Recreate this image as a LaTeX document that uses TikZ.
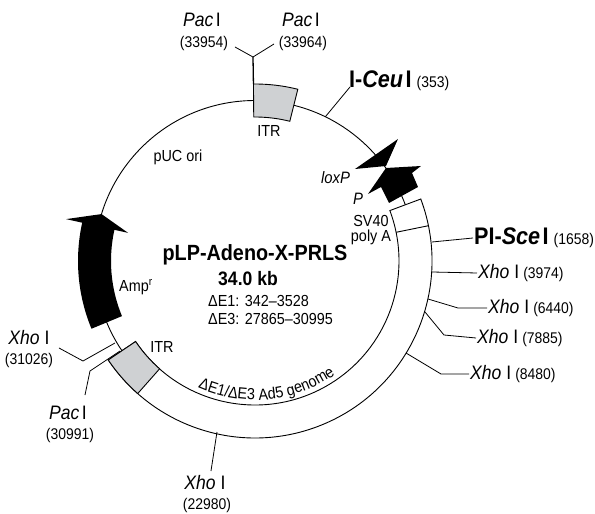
\documentclass[tikz,border=0pt]{standalone}
\usepackage{fontspec}
\setmainfont[FakeStretch=0.9]{Liberation Sans}
\usetikzlibrary{decorations.text}
\definecolor{itrgray}{HTML}{CFD1D3}
\newcommand{\sitename}[1]{{\fontsize{19.5}{20}\selectfont #1}}
\newcommand{\boldname}[1]{{\fontsize{24}{24}\selectfont\bfseries #1}}
\newcommand{\sitenum}[1]{{\fontsize{15.5}{16}\selectfont (#1)}}
\tikzset{
  sitelabel/.style={inner sep=1pt},
  featlabel/.style={inner sep=0pt, font=\fontsize{16}{15}\selectfont, align=center},
  lead/.style={line width=0.8pt}
}
\begin{document}
\begin{tikzpicture}[x=1pt, y=1pt]
\useasboundingbox (-255,-253) rectangle (340,261);
% backbone
\draw[line width=0.9pt] (76:160.5) arc[start angle=76, end angle=20.5, radius=160.5];
\draw[line width=0.9pt] (90.5:160.5) arc[start angle=90.5, end angle=214, radius=160.5];
% adenovirus ring
\draw[line width=0.9pt, fill=white] (214:144) arc[start angle=214, end angle=380.5, radius=144]
  -- (20.5:177) arc[start angle=20.5, end angle=-146, radius=177] -- cycle;
\draw[line width=0.9pt] (11.5:144) -- (11.5:177);
% ITR boxes
\draw[line width=0.9pt, fill=itrgray] (90.5:144) arc[start angle=90.5, end angle=76, radius=144]
  -- (76:177) arc[start angle=76, end angle=90.5, radius=177] -- cycle;
\draw[line width=0.9pt, fill=itrgray] (214:144) arc[start angle=214, end angle=228.5, radius=144]
  -- (228.5:177) arc[start angle=228.5, end angle=214, radius=177] -- cycle;
% Amp arrow
\fill (202.5:144) arc[start angle=202.5, end angle=167.5, radius=144] -- (167.5:130) -- (163:160.5)
  -- (167.5:193.5) -- (167.5:177) arc[start angle=167.5, end angle=202.5, radius=177] -- cycle;
% loxP and P
\fill (143,122) -- (100,92) -- (131,95) -- cycle;
\fill (131,93) -- (166,95) -- (157,88) -- (163,74) -- (134,58) -- (126,74) -- (113,67) -- cycle;
% sites
\node[sitelabel, anchor=center] (pacl) at (-53,241) {\sitename{\textit{Pac}\hspace{2.5pt}I}};
\node[sitelabel, anchor=center] (pacln) at (-51,218) {\sitenum{33954}};
\node[sitelabel, anchor=center] (pacr) at (46,241) {\sitename{\textit{Pac}\hspace{2.5pt}I}};
\node[sitelabel, anchor=center] (pacrn) at (48,218) {\sitenum{33964}};
\coordinate (pacb) at (-2,204);
\draw[line width=1.3pt] (90.5:177) -- (pacb);
\draw[lead] (-20,214) -- (pacb) -- (19,217);
\node[sitelabel, anchor=west] (ceu) at (93,180) {\boldname{I-\textit{Ceu}\hspace{2.5pt}I}\hspace{5pt}\sitenum{353}};
\coordinate (ceub) at (95,174);
\draw[lead] (64:160.5) -- (ceub);
\node[sitelabel, anchor=west] (sce) at (218,23) {\boldname{PI-\textit{Sce}\hspace{2.5pt}I}\hspace{5pt}\sitenum{1658}};
\draw[lead] (177,19) -- (sce.west);
\node[sitelabel, anchor=west] (xhoa) at (222,-12) {\sitename{\textit{Xho}\hspace{5pt}I}\hspace{4pt}\sitenum{3974}};
\draw[lead] (177,-11) -- (xhoa.west);
\node[sitelabel, anchor=west] (xhob) at (232,-47) {\sitename{\textit{Xho}\hspace{5pt}I}\hspace{4pt}\sitenum{6440}};
\draw[lead] (173,-38) -- (203,-47) -- (xhob.west);
\node[sitelabel, anchor=west] (xhoc) at (221,-77) {\sitename{\textit{Xho}\hspace{5pt}I}\hspace{4pt}\sitenum{7885}};
\draw[lead] (170,-51) -- (189,-74) -- (xhoc.west);
\node[sitelabel, anchor=west] (xhod) at (214,-113) {\sitename{\textit{Xho}\hspace{5pt}I}\hspace{4pt}\sitenum{8480}};
\draw[lead] (151,-92) -- (186,-113) -- (xhod.west);
\node[sitelabel] (xhoe) at (-50,-222) {\sitename{\textit{Xho}\hspace{5pt}I}};
\node[sitelabel] (xhoen) at (-48,-244) {\sitenum{22980}};
\draw[lead] (-38,-171) -- (-44,-210);
\node[sitelabel] (xhof) at (-226,-77) {\sitename{\textit{Xho}\hspace{5pt}I}};
\node[sitelabel] (xhofn) at (-226,-99) {\sitenum{31026}};
\draw[lead] (-140,-82) -- (-172,-100) -- (-196,-87);
\node[sitelabel] (pacg) at (-187,-152) {\sitename{\textit{Pac}\hspace{2.5pt}I}};
\node[sitelabel] (pacgn) at (-185,-174) {\sitenum{30991}};
\draw[lead] (-135,-90) -- (-165,-110) -- (-170,-134);
% features
\node[featlabel] (itra) at (14,130) {ITR};
\node[featlabel] (itrb) at (-93,-86) {ITR};
\node[featlabel] (ori) at (-77,104) {pUC ori};
\node[featlabel, font=\fontsize{16.5}{15}\selectfont\itshape] (loxp) at (80.5,83) {loxP};
\node[featlabel, font=\fontsize{16.5}{15}\selectfont\itshape] (prom) at (103,62) {P};
\node[featlabel] (sv) at (116,30.5) {SV40\\poly A};
\node[featlabel, anchor=west] (amp) at (-136,-26) {Amp\textsuperscript{r}};
% centre
\node[inner sep=0pt, font=\fontsize{22}{22}\selectfont\bfseries] (name) at (0,6) {pLP-Adeno-X-PRLS};
\node[inner sep=0pt, font=\fontsize{19.5}{20}\selectfont\bfseries] (size) at (-7,-18) {34.0 kb};
\node[inner sep=0pt, anchor=west, font=\fontsize{16}{16}\selectfont] (delone) at (-47,-40) {ΔE1: 342–3528};
\node[inner sep=0pt, anchor=west, font=\fontsize{16}{16}\selectfont] (delthree) at (-47,-58) {ΔE3: 27865–30995};
{\fontsize{16}{16}\selectfont
\path[decorate, decoration={text along path, text align=center, text={ΔE1/ΔE3 Ad5 genome}}]
  (240:139) arc[start angle=240, end angle=311, radius=139];}
\end{tikzpicture}
\end{document}
